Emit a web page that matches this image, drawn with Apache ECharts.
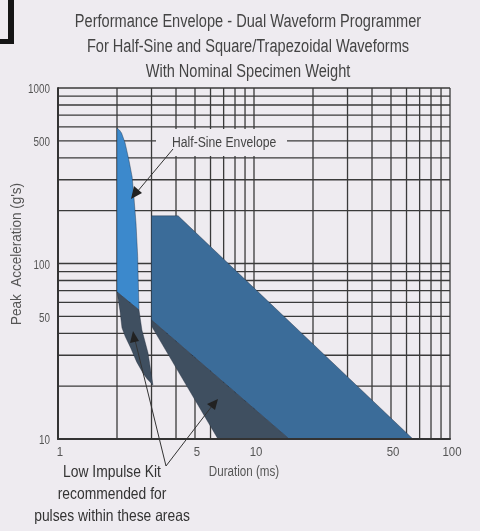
<!DOCTYPE html>
<html>
<head>
<meta charset="utf-8">
<script src="https://cdn.jsdelivr.net/npm/echarts@6/dist/echarts.min.js"></script>
<style>
html,body{margin:0;padding:0;background:#eeebf0;}
#main{width:480px;height:531px;}
</style>
</head>
<body>
<div id="main"></div>
<script>
// ---- data (duration ms, peak acceleration g) ----
const xGridValues = [1,2,3,4,5,6,7,8,9,10,20,30,40,50,60,70,80,90,100];
const yGridValues = [10,20,30,40,50,60,70,80,90,100,200,300,400,500,600,700,800,900,1000];
const xTickLabels = [1,5,10,50,100];
const yTickLabels = [10,50,100,500,1000];

const halfSineEnvelope = [[2,592],[2.06,575],[2.11,554],[2.2,486],[2.3,389],[2.39,311],[2.44,239],[2.5,170],[2.55,110],[2.59,54.3],[2,68.8]];
const halfSineLowImpulse = [[2,68.8],[2.59,54.3],[2.68,41.8],[2.88,30.9],[3.05,20.3],[2.85,22],[2.71,23.8],[2.52,27.5],[2.35,33],[2.2,38.5],[2.12,43],[2.07,54]];
const squareEnvelope = [[3,187],[4.1,187],[64.7,10],[15.1,10],[3,47.6]];
const squareLowImpulse = [[3,47.6],[15.1,10],[6.55,10],[3,44]];

const BG = '#eeebf0';
const FONT = '"Liberation Sans",Arial,sans-serif';

function polygonSeries(name, pts, color, z) {
  return {
    type: 'custom', name: name, silent: true, z: z, clip: false,
    data: pts,
    renderItem: function (params, api) {
      if (params.dataIndex !== 0) return null;
      const points = pts.map(p => api.coord(p));
      return { type: 'polygon', shape: { points: points }, style: { fill: color, stroke: 'rgba(30,40,55,0.55)', lineWidth: 0.7 } };
    }
  };
}

function txt(x, y, text, size, color, sx, align, extra) {
  return Object.assign({ type: 'text', z: 101, x: x, y: y, scaleX: sx,
    style: { text: text, font: size + 'px ' + FONT, fill: color, align: align || 'center', verticalAlign: 'middle' } }, extra || {});
}

const chart = echarts.init(document.getElementById('main'), null, {renderer: 'canvas'});
const option = {
  backgroundColor: BG,
  animation: false,
  grid: { left: 58, right: 30, top: 88, bottom: 92 },
  xAxis: {
    type: 'log', logBase: 10, min: 1, max: 100, z: 10,
    axisLine: { show: true, lineStyle: { color: '#333', width: 2 } },
    axisTick: { show: false }, axisLabel: { show: false }, splitLine: { show: false }
  },
  yAxis: {
    type: 'log', logBase: 10, min: 10, max: 1000, z: 10,
    axisLine: { show: true, lineStyle: { color: '#333', width: 2 } },
    axisTick: { show: false }, axisLabel: { show: false }, splitLine: { show: false }
  },
  series: [
    {
      type: 'custom', name: 'vgrid', silent: true, z: 1,
      data: xGridValues.map(v => [v, 10]),
      renderItem: function (params, api) {
        const a = api.coord([api.value(0), 10]);
        const b = api.coord([api.value(0), 1000]);
        return { type: 'line', shape: { x1: a[0], y1: a[1], x2: b[0], y2: b[1] }, style: { stroke: '#3a3a3a', lineWidth: 1.3 } };
      }
    },
    {
      type: 'custom', name: 'hgrid', silent: true, z: 1,
      data: yGridValues.map(v => [1, v]),
      renderItem: function (params, api) {
        const a = api.coord([1, api.value(1)]);
        const b = api.coord([100, api.value(1)]);
        return { type: 'line', shape: { x1: a[0], y1: a[1], x2: b[0], y2: b[1] }, style: { stroke: '#3a3a3a', lineWidth: 1.3 } };
      }
    },
    polygonSeries('Half-Sine Envelope', halfSineEnvelope, '#3c89cc', 3),
    polygonSeries('Half-Sine Low Impulse', halfSineLowImpulse, '#3f4f60', 3),
    polygonSeries('Square Envelope', squareEnvelope, '#3b6c99', 3),
    polygonSeries('Square Low Impulse', squareLowImpulse, '#3f4f60', 3),
    {
      type: 'custom', name: 'xlabels', silent: true, z: 4, clip: false,
      data: xTickLabels.map(v => [v, 10]),
      renderItem: function (params, api) {
        const p = api.coord([api.value(0), 10]);
        return { type: 'text', x: p[0] + 2, y: p[1] + 13, scaleX: 0.88,
          style: { text: String(api.value(0)), fill: '#555', font: '13px ' + FONT, align: 'center', verticalAlign: 'middle' } };
      }
    },
    {
      type: 'custom', name: 'ylabels', silent: true, z: 4, clip: false,
      data: yTickLabels.map(v => [1, v]),
      renderItem: function (params, api) {
        const p = api.coord([1, api.value(1)]);
        return { type: 'text', x: p[0] - 8, y: p[1] + 2, scaleX: 0.82,
          style: { text: String(api.value(1)), fill: '#555', font: '12px ' + FONT, align: 'right', verticalAlign: 'middle' } };
      }
    }
  ],
  graphic: [
    { type: 'rect', z: 100, shape: { x: 8, y: 0, width: 6, height: 44 }, style: { fill: '#151515' } },
    { type: 'rect', z: 100, shape: { x: 0, y: 39, width: 14, height: 5 }, style: { fill: '#151515' } },
    txt(248, 22, 'Performance Envelope - Dual Waveform Programmer', 18, '#444', 0.81),
    txt(248, 47, 'For Half-Sine and Square/Trapezoidal Waveforms', 18, '#444', 0.81),
    txt(248, 72, 'With Nominal Specimen Weight', 18, '#444', 0.81),
    txt(17, 254, "Peak  Acceleration (g's)", 15, '#555', 0.9, 'center', { rotation: Math.PI / 2 }),
    txt(244, 472, 'Duration (ms)', 14, '#555', 0.83),
    txt(112, 472, 'Low Impulse Kit', 16.5, '#333', 0.84),
    txt(112, 494, 'recommended for', 16.5, '#333', 0.84),
    txt(112, 516, 'pulses within these areas', 16.5, '#333', 0.84),
    // Half-sine label with background box hiding grid
    { type: 'rect', z: 100, shape: { x: 156, y: 129, width: 131, height: 27 }, style: { fill: BG } },
    txt(172, 143, 'Half-Sine Envelope', 14, '#444', 0.87, 'left'),
    // arrows
    { type: 'line', z: 101, shape: { x1: 173, y1: 149, x2: 137, y2: 192 }, style: { stroke: '#333', lineWidth: 1 } },
    { type: 'polygon', z: 101, shape: { points: [[131, 199], [134, 186], [142, 193]] }, style: { fill: '#222' } },
    { type: 'line', z: 101, shape: { x1: 166, y1: 466, x2: 135, y2: 340 }, style: { stroke: '#333', lineWidth: 1 } },
    { type: 'polygon', z: 101, shape: { points: [[133, 331], [130, 343], [139, 341]] }, style: { fill: '#222' } },
    { type: 'line', z: 101, shape: { x1: 166, y1: 466, x2: 212, y2: 406 }, style: { stroke: '#333', lineWidth: 1 } },
    { type: 'polygon', z: 101, shape: { points: [[218, 399], [207, 404], [215, 410]] }, style: { fill: '#222' } }
  ]
};
chart.setOption(option);
</script>
</body>
</html>
